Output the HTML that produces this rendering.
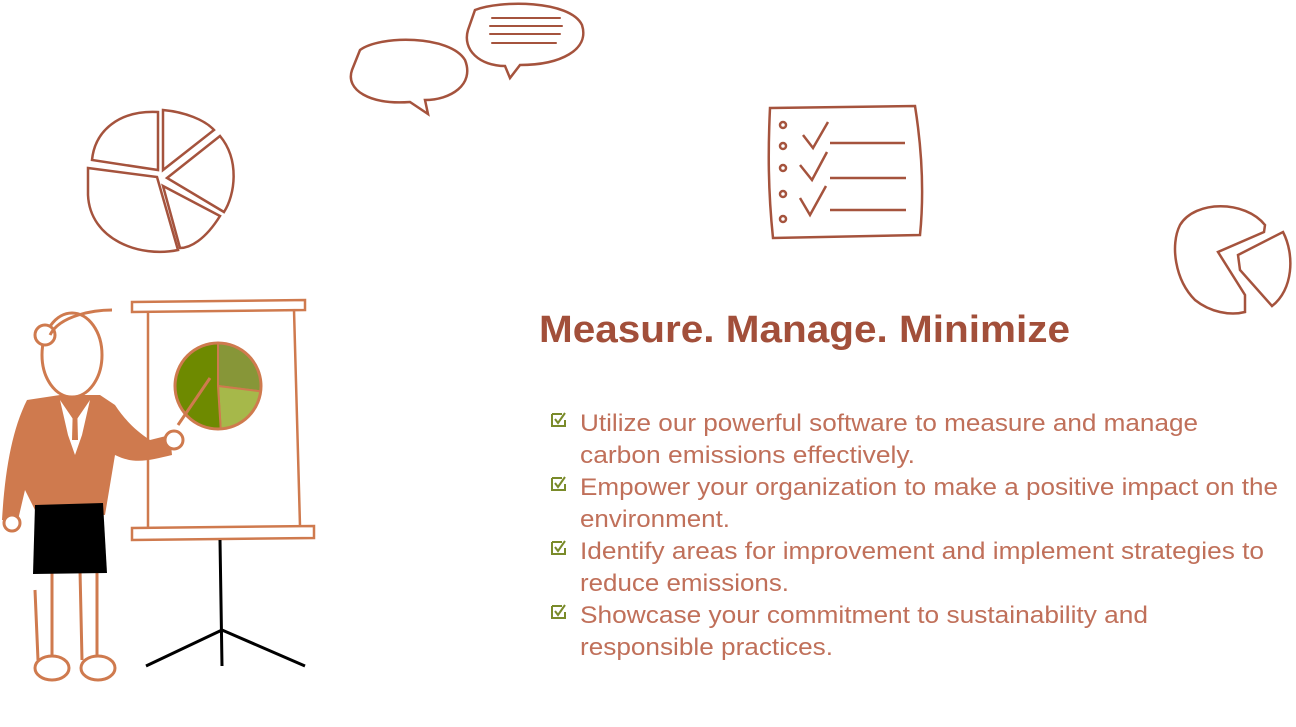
<!DOCTYPE html>
<html><head><meta charset="utf-8"><style>
html,body{margin:0;padding:0;background:#fff;width:1296px;height:727px;overflow:hidden}
svg{display:block}
text{font-family:"Liberation Sans",sans-serif}
</style></head><body>
<svg width="1296" height="727" viewBox="0 0 1296 727">
<g fill="none" stroke="#a5533d" stroke-width="2.5" stroke-linecap="round">
<path d="M360 50 C380 35 450 35 465 60 C475 85 450 100 425 100 L428 114 L410 102 C370 105 345 90 352 70 Z"/>
<path d="M475 10 C500 0 570 0 582 25 C590 50 560 65 520 65 L510 78 L505 66 C480 66 462 50 468 30 Z"/>
<path d="M492 18 H560 M490 26 H562 M490 34 H560 M492 43 H556" stroke-width="2"/>
</g>
<g fill="none" stroke="#a5533d" stroke-width="2.5">
<path d="M158 112 C120 110 95 130 92 160 L158 170 Z"/>
<path d="M163 110 C185 112 205 120 214 130 L163 170 Z"/>
<path d="M167 178 L220 136 C240 160 235 195 224 212 Z"/>
<path d="M163 186 L220 216 C205 240 190 248 180 248 Z"/>
<path d="M88 168 L157 177 L178 250 C140 258 90 240 88 195 Z"/>
</g>
<g fill="none" stroke="#a5533d" stroke-width="2.5">
<path d="M770 108 L915 106 C922 150 924 195 920 235 L773 238 C768 190 768 150 770 108 Z"/>
<circle cx="783" cy="125" r="3"/><circle cx="783" cy="146" r="3"/><circle cx="783" cy="168" r="3"/><circle cx="783" cy="194" r="3"/><circle cx="783" cy="219" r="3"/>
<path d="M803 135 L813 148 L828 122 M800 165 L812 180 L827 152 M800 198 L810 215 L826 186"/>
<path d="M830 143 H905 M830 178 H906 M830 210 H906"/>
</g>
<g fill="none" stroke="#a5533d" stroke-width="2.5">
<path d="M1265 225 C1245 200 1195 200 1180 225 C1170 245 1175 280 1195 300 C1210 312 1230 316 1245 312 L1245 295 L1218 252 L1264 232 Z"/>
<path d="M1238 255 L1283 232 C1295 255 1293 290 1272 306 L1240 270 Z"/>
</g>
<g>
<path d="M132 302 L305 300 L305 310 L132 312 Z M132 528 L314 526 L314 538 L132 540 Z" fill="none" stroke="#cf7a4e" stroke-width="2.5"/>
<path d="M148 312 L148 528 M294 310 L300 526" stroke="#cf7a4e" stroke-width="2.5"/>
<path d="M220 540 L222 666 M222 630 L146 666 M222 630 L305 666" stroke="#000" stroke-width="3" fill="none"/>
<g id="pie"></g>
<path d="M178 425 L210 378" stroke="#cf7a4e" stroke-width="3"/>
<path d="M35 590 L38 660 M52 570 L52 660 M80 570 L82 660 M97 570 L97 660" stroke="#cf7a4e" stroke-width="3"/>
<ellipse cx="52" cy="668" rx="17" ry="12" fill="#fff" stroke="#cf7a4e" stroke-width="3"/>
<ellipse cx="98" cy="668" rx="17" ry="12" fill="#fff" stroke="#cf7a4e" stroke-width="3"/>
<path d="M27 400 L60 395 L100 395 L115 405 C125 420 135 430 150 440 L170 435 L172 455 C150 460 135 465 115 455 L105 515 L35 510 L25 490 L18 520 L2 520 C5 470 12 430 27 400 Z" fill="#cf7a4e"/>
<path d="M35 505 L103 503 L107 573 L33 574 Z" fill="#000"/>
<path d="M60 400 L75 422 L90 400 L82 435 L75 455 L68 435 Z" fill="#fff"/>
<path d="M73 402 L77 402 L78 440 L72 440 Z" fill="#cf7a4e"/>
<circle cx="12" cy="523" r="8" fill="#fff" stroke="#cf7a4e" stroke-width="3"/>
<circle cx="174" cy="440" r="9" fill="#fff" stroke="#cf7a4e" stroke-width="3"/>
<ellipse cx="72" cy="355" rx="30" ry="42" fill="#fff" stroke="#cf7a4e" stroke-width="3"/>
<circle cx="45" cy="335" r="10" fill="#fff" stroke="#cf7a4e" stroke-width="3"/>
<path d="M50 335 C60 315 95 310 112 310" fill="none" stroke="#cf7a4e" stroke-width="3"/>
</g>
<text x="539" y="342" font-size="38" font-weight="bold" fill="#a24f3a" textLength="531" lengthAdjust="spacingAndGlyphs">Measure. Manage. Minimize</text>
<g id="bullets" font-size="24" fill="#c0705a">
<text x="580" y="431" textLength="618" lengthAdjust="spacingAndGlyphs">Utilize our powerful software to measure and manage</text>
<text x="580" y="463" textLength="335" lengthAdjust="spacingAndGlyphs">carbon emissions effectively.</text>
<text x="580" y="495" textLength="698" lengthAdjust="spacingAndGlyphs">Empower your organization to make a positive impact on the</text>
<text x="580" y="527" textLength="150" lengthAdjust="spacingAndGlyphs">environment.</text>
<text x="580" y="559" textLength="684" lengthAdjust="spacingAndGlyphs">Identify areas for improvement and implement strategies to</text>
<text x="580" y="591" textLength="209" lengthAdjust="spacingAndGlyphs">reduce emissions.</text>
<text x="580" y="623" textLength="568" lengthAdjust="spacingAndGlyphs">Showcase your commitment to sustainability and</text>
<text x="580" y="655" textLength="253" lengthAdjust="spacingAndGlyphs">responsible practices.</text>
</g>
<g fill="none" stroke="#7a8b2a" stroke-width="2">
<path d="M552 414 H562 M552 414 V426 H565 V420 M555 419 L558 423 L565 413"/>
<path d="M552 478 H562 M552 478 V490 H565 V484 M555 483 L558 487 L565 477"/>
<path d="M552 542 H562 M552 542 V554 H565 V548 M555 547 L558 551 L565 541"/>
<path d="M552 606 H562 M552 606 V618 H565 V612 M555 611 L558 615 L565 605"/>
</g>
</svg>
<script>
const sliceLabels = ["Medium", "Small", "Large"];
const sliceValues = [27, 22, 51];
const sliceColors = ["#879638", "#a6b84a", "#6e8a00"];
(function(){
  const g = document.getElementById('pie');
  const cx = 218, cy = 386, r = 43;
  const total = sliceValues.reduce((a,b)=>a+b,0);
  const ns = "http://www.w3.org/2000/svg";
  let ang = -Math.PI*0.5;
  sliceValues.forEach((v,i)=>{
    const sweep = v/total*2*Math.PI;
    const a1 = ang + sweep;
    const x0 = cx + r*Math.cos(ang), y0 = cy + r*Math.sin(ang);
    const x1 = cx + r*Math.cos(a1), y1 = cy + r*Math.sin(a1);
    const p = document.createElementNS(ns,'path');
    p.setAttribute('d', `M${cx} ${cy} L${x0} ${y0} A${r} ${r} 0 ${sweep>Math.PI?1:0} 1 ${x1} ${y1} Z`);
    p.setAttribute('fill', sliceColors[i]);
    p.setAttribute('stroke', '#cf7a4e');
    p.setAttribute('stroke-width', '2');
    
    
    g.appendChild(p);
    ang = a1;
  });
  const c = document.createElementNS(ns,'circle');
  c.setAttribute('cx',cx);c.setAttribute('cy',cy);c.setAttribute('r',r);
  c.setAttribute('fill','none');c.setAttribute('stroke','#cf7a4e');c.setAttribute('stroke-width','3');
  
  
  g.appendChild(c);
})();
</script>
</body></html>
